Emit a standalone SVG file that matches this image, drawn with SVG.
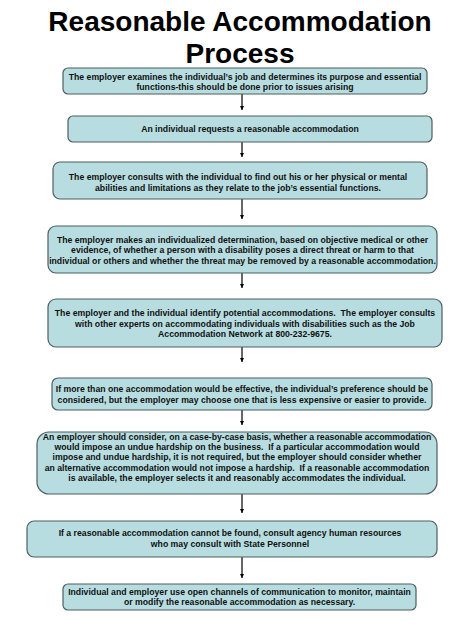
<svg xmlns="http://www.w3.org/2000/svg" width="474" height="631" viewBox="0 0 474 631">
<defs>
<style>
.box{fill:#b7dde0;stroke:#4f5e60;stroke-width:1.2}
.t{font-family:"Liberation Sans",Arial,sans-serif;font-weight:bold;font-size:8.7px;fill:#111;text-anchor:middle;white-space:pre}
.title{font-family:"Liberation Sans",Arial,sans-serif;font-weight:bold;font-size:28px;fill:#000;text-anchor:middle}
.conn{stroke:#000;stroke-width:1.2;fill:none;marker-end:url(#ah)}
</style>
<marker id="ah" viewBox="0 0 6 6" refX="6" refY="3" markerWidth="4" markerHeight="4" orient="auto" markerUnits="userSpaceOnUse">
<path d="M0,0 L6,3 L0,6 z" fill="#000"/>
</marker>
</defs>
<rect width="474" height="631" fill="#fff"/>
<g id="title">
<text class="title" x="240" y="31">Reasonable Accommodation</text>
<text class="title" x="240" y="63">Process</text>
</g>
<g id="connectors">
<line class="conn" x1="242" y1="94" x2="242" y2="110"/>
<line class="conn" x1="242" y1="142" x2="242" y2="157"/>
<line class="conn" x1="242" y1="199" x2="242" y2="219"/>
<line class="conn" x1="242" y1="273" x2="242" y2="288"/>
<line class="conn" x1="242" y1="347" x2="242" y2="362"/>
<line class="conn" x1="242" y1="410" x2="242" y2="425"/>
<line class="conn" x1="242" y1="494" x2="242" y2="513"/>
<line class="conn" x1="242" y1="557" x2="242" y2="578"/>
</g>
<g id="n1">
<rect class="box" x="63" y="68" width="364" height="26" rx="5"/>
<text class="t" x="245" y="79.5">The employer examines the individual’s job and determines its purpose and essential</text>
<text class="t" x="245" y="90">functions-this should be done prior to issues arising</text>
</g>
<g id="n2">
<rect class="box" x="68" y="116" width="364" height="26" rx="5"/>
<text class="t" x="250" y="131.5">An individual requests a reasonable accommodation</text>
</g>
<g id="n3">
<rect class="box" x="53" y="162" width="374" height="37" rx="7"/>
<text class="t" x="238" y="179.5">The employer consults with the individual to find out his or her physical or mental</text>
<text class="t" x="238" y="190.5">abilities and limitations as they relate to the job’s essential functions.</text>
</g>
<g id="n4">
<rect class="box" x="48" y="226" width="389" height="47" rx="8"/>
<text class="t" x="242.5" y="242.5">The employer makes an individualized determination, based on objective medical or other</text>
<text class="t" x="242.5" y="253">evidence, of whether a person with a disability poses a direct threat or harm to that</text>
<text class="t" x="242.5" y="263.5">individual or others and whether the threat may be removed by a reasonable accommodation.</text>
</g>
<g id="n5">
<rect class="box" x="48" y="299" width="394" height="48" rx="8"/>
<text class="t" x="245" y="315.5">The employer and the individual identify potential accommodations.  The employer consults</text>
<text class="t" x="245" y="326.5">with other experts on accommodating individuals with disabilities such as the Job</text>
<text class="t" x="245" y="337">Accommodation Network at 800-232-9675.</text>
</g>
<g id="n6">
<rect class="box" x="52" y="378" width="380" height="32" rx="6"/>
<text class="t" x="242" y="391.5">If more than one accommodation would be effective, the individual’s preference should be</text>
<text class="t" x="242" y="402.5">considered, but the employer may choose one that is less expensive or easier to provide.</text>
</g>
<g id="n7">
<rect class="box" x="37" y="432" width="400" height="62" rx="12"/>
<text class="t" x="237" y="439.5">An employer should consider, on a case-by-case basis, whether a reasonable accommodation</text>
<text class="t" x="237" y="449.5">would impose an undue hardship on the business.  If a particular accommodation would</text>
<text class="t" x="237" y="460">impose and undue hardship, it is not required, but the employer should consider whether</text>
<text class="t" x="237" y="470.5">an alternative accommodation would not impose a hardship.  If a reasonable accommodation</text>
<text class="t" x="237" y="480.5">is available, the employer selects it and reasonably accommodates the individual.</text>
</g>
<g id="n8">
<rect class="box" x="27" y="521" width="410" height="36" rx="7"/>
<text class="t" x="230" y="535.5">If a reasonable accommodation cannot be found, consult agency human resources</text>
<text class="t" x="230" y="546.5">who may consult with State Personnel</text>
</g>
<g id="n9">
<rect class="box" x="63" y="584" width="353" height="26" rx="5"/>
<text class="t" x="239.5" y="594.5">Individual and employer use open channels of communication to monitor, maintain</text>
<text class="t" x="239.5" y="605">or modify the reasonable accommodation as necessary.</text>
</g>
</svg>
